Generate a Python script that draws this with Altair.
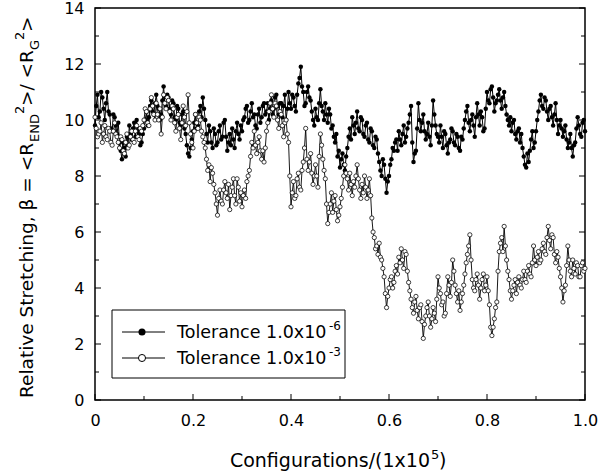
import altair as alt
import pandas as pd

# Relative stretching, tolerance 1.0e-6 (filled circles), evenly spaced configurations 0..1
tol6 = [
    9.8, 10.5, 10.9, 10.1, 10.3, 11.0, 10.8, 10.4, 10.0, 10.6, 11.0, 10.3, 10.2, 9.7, 9.6, 10.2, 10.1, 9.8, 9.5, 9.9,
    9.2, 8.9, 8.6, 9.2, 9.0, 8.7, 9.4, 9.1, 9.8, 9.5, 9.3, 9.7, 9.9, 9.4, 10.0, 9.6, 9.5, 9.1, 9.2, 9.5,
    9.7, 10.0, 10.3, 9.8, 10.1, 10.5, 10.7, 10.3, 10.2, 10.6, 10.9, 10.5, 10.4, 10.0, 10.2, 10.7, 11.2, 10.6, 10.5, 10.9,
    10.8, 10.4, 10.2, 10.7, 10.6, 10.1, 10.0, 10.5, 10.4, 9.9, 9.8, 10.2, 10.3, 9.7, 9.5, 9.1, 8.8, 8.7, 9.0, 9.3,
    9.6, 9.9, 10.2, 9.7, 9.8, 10.3, 10.5, 10.1, 10.8, 10.4, 10.0, 9.5, 9.2, 9.8, 9.6, 9.2, 9.0, 9.7, 9.5, 9.1,
    9.2, 9.6, 9.8, 9.3, 9.4, 9.9, 10.0, 9.4, 8.9, 9.2, 9.5, 9.1, 9.7, 9.3, 9.0, 9.6, 9.9, 9.5, 9.3, 9.8,
    9.6, 10.0, 10.1, 10.4, 10.5, 9.9, 10.0, 10.3, 10.6, 10.1, 10.2, 9.8, 9.7, 10.2, 10.4, 9.9, 10.1, 10.5, 10.6, 10.2,
    10.3, 10.6, 10.0, 10.4, 10.7, 10.2, 10.4, 10.8, 10.9, 10.5, 10.2, 10.6, 10.6, 10.1, 10.5, 10.9, 10.0, 10.4, 11.0, 10.6,
    10.4, 10.9, 10.8, 10.5, 10.3, 10.9, 11.3, 11.5, 11.9, 11.2, 11.0, 10.5, 10.6, 11.0, 11.2, 10.8, 10.7, 10.3, 10.0, 9.8,
    10.4, 10.1, 10.0, 10.6, 11.1, 10.5, 10.3, 10.0, 10.6, 10.2, 9.9, 10.4, 10.2, 9.7, 9.8, 9.4, 9.2, 9.5, 8.7, 8.9,
    8.3, 8.6, 8.8, 8.4, 8.2, 8.7, 9.0, 9.4, 9.7, 9.3, 10.1, 9.8, 9.5, 9.9, 10.3, 9.7, 9.6, 10.1, 10.0, 9.5,
    9.4, 9.8, 9.9, 9.3, 9.2, 9.7, 9.6, 9.1, 9.0, 9.4, 9.3, 8.8, 8.5, 8.2, 8.0, 8.6, 8.4, 7.9, 7.4, 7.8,
    8.0, 8.4, 8.6, 9.0, 8.9, 9.2, 9.3, 8.9, 9.6, 9.3, 9.1, 9.5, 9.8, 9.2, 9.4, 9.7, 9.9, 10.2, 10.5, 9.2,
    8.5, 8.8, 8.9, 9.7, 10.6, 10.0, 9.6, 9.9, 10.2, 9.6, 9.3, 9.5, 9.9, 9.4, 9.1, 9.8, 10.7, 10.2, 9.8, 9.5,
    9.4, 9.2, 9.8, 9.4, 9.0, 9.6, 9.5, 9.1, 8.8, 9.2, 9.3, 9.7, 9.6, 9.2, 9.1, 9.5, 9.4, 9.0, 8.9, 9.4,
    9.3, 9.7, 10.0, 10.3, 10.5, 9.9, 9.6, 10.0, 10.2, 9.8, 9.4, 10.1, 10.6, 10.2, 9.8, 10.3, 10.1, 9.6, 9.7, 10.4,
    11.0, 10.7, 10.6, 11.1, 11.2, 10.8, 10.3, 10.6, 10.7, 10.9, 11.1, 10.7, 10.4, 10.8, 11.0, 10.5, 10.2, 10.0, 9.8, 10.1,
    9.6, 9.9, 10.0, 9.5, 9.3, 9.6, 9.7, 9.2, 9.5, 9.0, 8.7, 8.4, 8.3, 8.8, 8.5, 8.9, 9.3, 9.6, 9.0, 9.2,
    9.6, 10.0, 10.3, 10.7, 10.9, 10.5, 10.4, 10.8, 10.7, 10.3, 10.0, 10.4, 10.5, 10.1, 9.8, 10.2, 10.6, 10.0, 9.5, 9.8,
    10.0, 9.7, 9.4, 9.6, 9.8, 9.3, 9.0, 9.2, 9.5, 9.0, 8.7, 9.1, 9.2, 9.7, 10.1, 9.8, 9.5, 9.4, 9.9, 10.0,
    9.6,
]

# Relative stretching, tolerance 1.0e-3 (open circles)
tol3 = [
    10.1, 9.7, 9.4, 9.5, 9.6, 9.9, 9.2, 9.5, 9.8, 9.4, 9.3, 9.7, 9.6, 9.2, 9.1, 9.6, 9.9, 9.5, 9.4, 9.2,
    9.0, 9.4, 9.3, 8.9, 8.8, 9.2, 9.5, 9.0, 9.1, 9.4, 9.6, 9.3, 9.2, 9.6, 9.8, 9.4, 9.3, 9.7, 9.6, 9.8,
    10.0, 10.4, 10.3, 9.9, 9.8, 10.4, 10.8, 10.5, 10.2, 10.0, 10.6, 10.2, 10.0, 10.4, 9.5, 10.1, 10.9, 10.6, 10.4, 10.8,
    10.7, 10.3, 10.0, 10.5, 10.4, 9.9, 9.6, 10.1, 10.2, 9.7, 9.3, 9.9, 10.5, 10.1, 9.8, 10.3, 10.9, 9.9, 9.5, 9.2,
    9.0, 9.6, 10.2, 9.9, 9.7, 10.1, 10.0, 9.6, 9.4, 9.2, 9.0, 8.6, 8.2, 8.4, 7.8, 8.3, 8.1, 7.7, 7.4, 7.0,
    6.6, 7.2, 7.5, 7.1, 7.0, 7.5, 7.8, 7.4, 7.2, 7.7, 6.8, 7.3, 7.6, 7.9, 7.3, 7.0, 7.9, 7.6, 7.1, 7.4,
    6.9, 7.3, 7.5, 7.2, 7.8, 8.0, 8.2, 8.7, 9.2, 9.0, 9.6, 9.1, 8.8, 9.2, 9.4, 8.9, 8.6, 8.9, 8.5, 9.0,
    9.6, 9.9, 10.3, 10.6, 10.9, 10.4, 10.1, 10.6, 10.5, 10.0, 9.7, 10.3, 10.2, 9.8, 9.4, 9.9, 10.0, 9.5, 9.2, 8.0,
    6.9, 7.4, 7.8, 7.2, 7.3, 7.9, 8.1, 7.6, 7.5, 8.2, 8.5, 9.0, 9.7, 8.6, 8.2, 8.5, 8.8, 8.1, 7.7, 8.0,
    8.4, 8.0, 7.6, 8.7, 9.5, 9.1, 8.6, 8.2, 7.9, 7.0, 6.3, 6.7, 7.0, 7.4, 6.7, 7.1, 7.3, 6.8, 6.4, 6.6,
    6.9, 7.2, 7.6, 8.0, 8.4, 8.1, 7.9, 7.5, 8.1, 7.7, 7.3, 7.8, 7.6, 8.0, 8.4, 7.9, 7.5, 7.2, 7.7, 7.4,
    8.0, 7.6, 7.2, 7.5, 7.9, 7.3, 6.5, 6.0, 5.8, 5.4, 5.5, 5.2, 5.6, 5.1, 5.0, 4.7, 4.4, 3.8, 3.3, 3.7,
    4.0, 4.3, 4.4, 4.0, 4.2, 4.6, 4.8, 4.5, 5.1, 4.9, 5.4, 5.0, 4.7, 5.3, 5.2, 4.6, 4.2, 3.9, 3.6, 3.3,
    3.1, 3.5, 3.7, 3.2, 2.9, 3.3, 3.4, 2.8, 2.2, 2.7, 3.0, 3.3, 3.5, 3.0, 2.6, 2.9, 3.3, 3.1, 2.8, 3.6,
    4.4, 4.0, 3.8, 3.4, 3.5, 3.0, 3.1, 3.8, 4.4, 4.1, 3.7, 4.2, 5.0, 4.6, 4.1, 3.8, 3.5, 3.9, 3.2, 3.5,
    3.8, 4.1, 4.5, 4.9, 5.2, 5.5, 5.9, 5.0, 4.3, 4.0, 3.9, 4.3, 4.5, 4.1, 3.6, 4.0, 4.3, 4.5, 3.9, 4.1,
    4.4, 3.9, 3.4, 2.6, 2.3, 2.6, 2.9, 3.3, 3.5, 4.6, 5.3, 5.6, 5.8, 5.3, 6.2, 5.5, 5.0, 4.6, 4.3, 3.9,
    3.6, 3.9, 4.1, 4.3, 3.8, 4.2, 4.4, 4.1, 4.0, 4.3, 4.6, 4.3, 4.2, 4.6, 4.8, 4.5, 4.4, 4.9, 5.5, 5.0,
    4.8, 5.1, 5.3, 4.9, 5.0, 5.4, 5.6, 5.3, 5.2, 5.8, 6.2, 5.7, 5.4, 5.9, 5.8, 5.2, 4.9, 5.3, 5.1, 4.7,
    4.4, 4.0, 3.5, 3.9, 4.1, 4.8, 5.5, 5.0, 4.6, 4.4, 5.0, 4.7, 4.5, 4.9, 4.8, 4.4, 4.4, 4.8, 4.9, 4.6,
    4.7,
]

x_major = [0, 0.2, 0.4, 0.6, 0.8, 1.0]
x_minor = [0.1, 0.3, 0.5, 0.7, 0.9]
y_major = [0, 2, 4, 6, 8, 10, 12, 14]
y_minor = [1, 3, 5, 7, 9, 11, 13]

legend_labels = ["Tolerance 1.0x10", "Tolerance 1.0x10"]
legend_sups = ["-6", "-3"]

def series(vals):
    n = len(vals)
    return pd.DataFrame({"x": [i / (n - 1) for i in range(n)], "y": vals})

df6 = series(tol6)
df3 = series(tol3)

W, H = 490, 392
FONT = "DejaVu Sans"
xs = alt.Scale(domain=[0, 1], nice=False, zero=False)
ys = alt.Scale(domain=[0, 14], nice=False)

xaxis = alt.Axis(values=x_major, labelExpr="datum.value == 0 ? '0' : format(datum.value, '.1f')",
                 ticks=False, grid=False, domain=False, labelFont=FONT, labelFontSize=16,
                 labelColor="black", labelPadding=12, title=None, labelFlush=False)
yaxis = alt.Axis(values=y_major, format="d", ticks=False, grid=False, domain=False,
                 labelFont=FONT, labelFontSize=16, labelColor="black", labelPadding=11, title=None)

X = lambda f: alt.X(f, type="quantitative", scale=xs, axis=xaxis)
Y = lambda f: alt.Y(f, type="quantitative", scale=ys, axis=yaxis)

line6 = alt.Chart(df6).mark_line(color="black", strokeWidth=1).encode(x=X("x"), y=Y("y"))
pts6 = alt.Chart(df6).mark_point(shape="circle", filled=True, color="black", size=20, opacity=1).encode(
    x=X("x"), y=Y("y"))
line3 = alt.Chart(df3).mark_line(color="black", strokeWidth=0.9).encode(x=X("x"), y=Y("y"))
pts3 = alt.Chart(df3).mark_point(shape="circle", filled=True, fill="white", stroke="black",
                                 strokeWidth=0.75, size=18, opacity=1).encode(x=X("x"), y=Y("y"))

def xticks(vals, length):
    d = pd.DataFrame({"v": vals})
    return alt.Chart(d).mark_rule(color="black", strokeWidth=1).encode(
        x=X("v"), y=alt.value(H), y2=alt.value(H - length))

def yticks(vals, length, right=False):
    d = pd.DataFrame({"v": vals})
    x0 = W if right else 0
    x1 = W - length if right else length
    return alt.Chart(d).mark_rule(color="black", strokeWidth=1).encode(
        y=Y("v"), x=alt.value(x0), x2=alt.value(x1))

one = pd.DataFrame({"k": [0]})

def txt(s, x, y, size, angle=0, align="left"):
    return alt.Chart(one).mark_text(text=s, font=FONT, fontSize=size, color="black",
                                    angle=angle, align=align, baseline="alphabetic").encode(
        x=alt.value(x), y=alt.value(y))

# legend box
leg_box = alt.Chart(one).mark_rect(fill="white", stroke="black", strokeWidth=1).encode(
    x=alt.value(17), x2=alt.value(250), y=alt.value(302), y2=alt.value(370))
leg_l1 = alt.Chart(one).mark_rule(color="black", strokeWidth=1).encode(
    x=alt.value(27), x2=alt.value(70), y=alt.value(324))
leg_l2 = alt.Chart(one).mark_rule(color="black", strokeWidth=1).encode(
    x=alt.value(27), x2=alt.value(70), y=alt.value(350))
leg_p1 = alt.Chart(one).mark_point(shape="circle", filled=True, color="black", size=50, opacity=1).encode(
    x=alt.value(47), y=alt.value(324))
leg_p2 = alt.Chart(one).mark_point(shape="circle", filled=True, fill="white", stroke="black",
                                   strokeWidth=1, size=50, opacity=1).encode(
    x=alt.value(47), y=alt.value(350))
leg = [
    txt(legend_labels[0], 82, 330, 17.5), txt(legend_sups[0], 234, 322, 12),
    txt(legend_labels[1], 82, 356, 17.5), txt(legend_sups[1], 234, 348, 12),
]

# titles
xt = [
    txt("Configurations/(1x10", 335, 459, 19, align="right"),
    txt("5", 336, 451, 13),
    txt(")", 344, 459, 19),
]
yt = [
    txt("Relative Stretching, \u03b2 = <R", -62, 390, 18.5, angle=270),
    txt("END", -56, 134, 13, angle=270),
    txt("2", -71, 106, 13, angle=270),
    txt(">/ <R", -62, 98, 18.5, angle=270),
    txt("G", -56, 42, 13, angle=270),
    txt("2", -71, 32, 13, angle=270),
    txt(">", -62, 24, 18.5, angle=270),
]

chart = alt.layer(
    line6, pts6, line3, pts3,
    xticks(x_major, 6), xticks(x_minor, 4),
    yticks(y_major, 6), yticks(y_minor, 4),
    yticks(y_major, 6, right=True), yticks(y_minor, 4, right=True),
    leg_box, leg_l1, leg_l2, leg_p1, leg_p2, *leg,
    *xt, *yt,
).properties(
    width=W, height=H,
    autosize=alt.AutoSizeParams(type="none"),
    padding={"left": 95, "top": 8, "right": 31, "bottom": 75},
).configure_view(stroke="black", strokeWidth=1.5)

chart.save("out.html", embed_options={"renderer": "svg", "actions": False})
